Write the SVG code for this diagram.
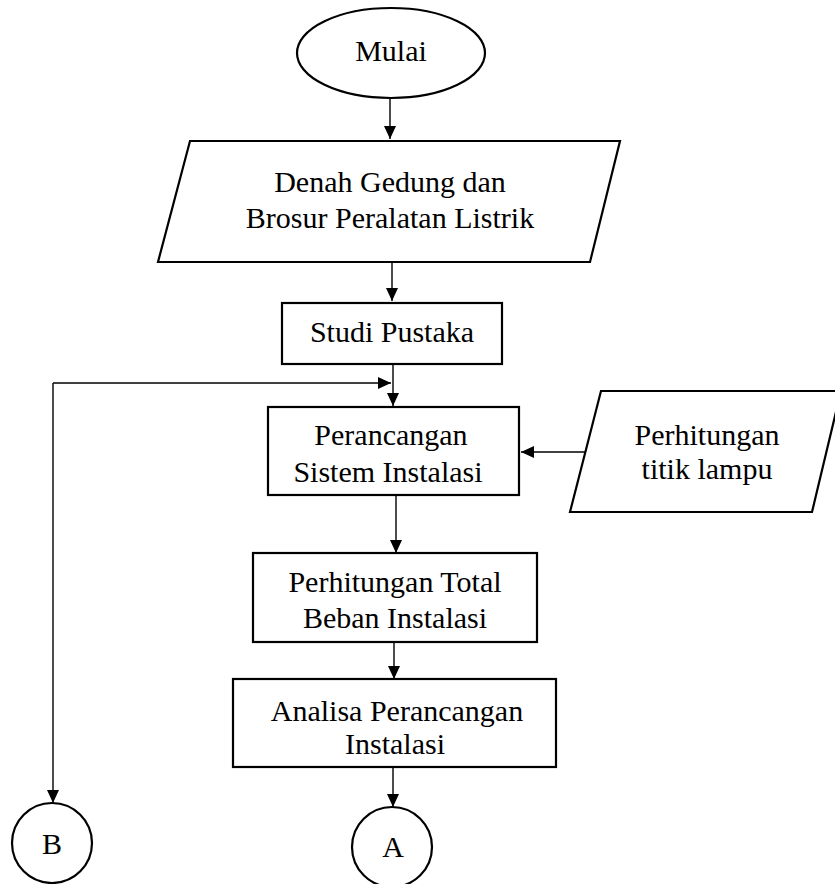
<svg xmlns="http://www.w3.org/2000/svg" width="835" height="884" viewBox="0 0 835 884">
<style>
.s{fill:#fff;stroke:#000;stroke-width:2.2}
.t{font-family:"Liberation Serif","Times New Roman",serif;font-size:30px;fill:#000;text-anchor:middle}
.c{fill:none;stroke:#000;stroke-width:1.4}
</style>
<defs>
<marker id="ah" markerUnits="userSpaceOnUse" markerWidth="14" markerHeight="14" viewBox="0 0 14 14" refX="13" refY="7" orient="auto">
<path d="M0,1 L13,7 L0,13 Z" fill="#000"/>
</marker>
</defs>
<rect width="835" height="884" fill="#fff"/>
<g id="connectors">
<line class="c" x1="390" y1="98" x2="390" y2="139" marker-end="url(#ah)"/>
<line class="c" x1="392" y1="263" x2="392" y2="301" marker-end="url(#ah)"/>
<line class="c" x1="393" y1="365" x2="393" y2="406" marker-end="url(#ah)"/>
<line class="c" x1="53" y1="383" x2="391" y2="383" marker-end="url(#ah)"/>
<line class="c" x1="53" y1="383" x2="53" y2="803" marker-end="url(#ah)"/>
<line class="c" x1="585" y1="452" x2="521" y2="452" marker-end="url(#ah)"/>
<line class="c" x1="396" y1="496" x2="396" y2="553" marker-end="url(#ah)"/>
<line class="c" x1="394" y1="643" x2="394" y2="679" marker-end="url(#ah)"/>
<line class="c" x1="393" y1="768" x2="393" y2="807" marker-end="url(#ah)"/>
</g>
<g id="mulai">
<ellipse class="s" cx="391" cy="53" rx="94" ry="45"/>
<text class="t" x="391" y="61">Mulai</text>
</g>
<g id="denah">
<polygon class="s" points="190,141 620,141 590,262 158,262"/>
<text class="t" x="390" y="192">Denah Gedung dan</text>
<text class="t" x="390" y="228">Brosur Peralatan Listrik</text>
</g>
<g id="studi">
<rect class="s" x="282" y="303" width="220" height="61"/>
<text class="t" x="392" y="342">Studi Pustaka</text>
</g>
<g id="perancangan">
<rect class="s" x="268" y="407" width="251" height="88"/>
<text class="t" x="391" y="445">Perancangan</text>
<text class="t" x="388" y="482">Sistem Instalasi</text>
</g>
<g id="titik">
<polygon class="s" points="601,391 841,391 812,512 570,512"/>
<text class="t" x="707" y="445">Perhitungan</text>
<text class="t" x="707" y="479">titik lampu</text>
</g>
<g id="total">
<rect class="s" x="253" y="553" width="284" height="89"/>
<text class="t" x="395" y="592">Perhitungan Total</text>
<text class="t" x="395" y="628">Beban Instalasi</text>
</g>
<g id="analisa">
<rect class="s" x="233" y="679" width="323" height="88"/>
<text class="t" x="397" y="721">Analisa Perancangan</text>
<text class="t" x="395" y="754">Instalasi</text>
</g>
<g id="B">
<circle class="s" cx="52" cy="843" r="40"/>
<text class="t" x="52" y="854">B</text>
</g>
<g id="A">
<circle class="s" cx="392" cy="847" r="40"/>
<text class="t" x="393" y="857">A</text>
</g>
</svg>
